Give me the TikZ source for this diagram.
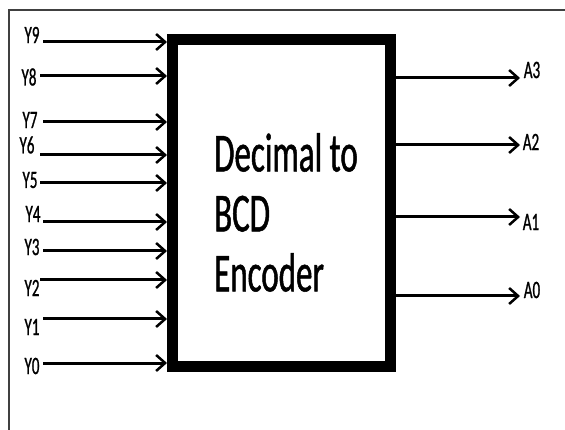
\documentclass[tikz,border=0pt]{standalone}
\usepackage{fontspec}
\setmainfont{Carlito}
\newfontfamily\condfont[FakeStretch=0.6,FakeBold=0.9]{Carlito}
\usetikzlibrary{arrows.meta}
\begin{document}
\begin{tikzpicture}[x=1pt, y=-1pt,
  every node/.style={font=\condfont\fontsize{25}{27}\selectfont, inner sep=0pt},
  encbox/.style={draw, line width=11pt, minimum width=218pt, minimum height=326pt},
  sig/.style={line width=3pt, -{Straight Barb[length=9pt,width=16pt,line width=2.5pt]}}]
  \useasboundingbox (0,0) rectangle (565,430);
  % outer frame, cut off at right and bottom
  \draw[line width=2pt, black!75] (9,432) -- (9,10) -- (567,10);
  \node[encbox] (enc) at (281.5,203) {};
  \node[anchor=north west, align=left, font=\condfont\fontsize{55}{60}\selectfont] (title) at (214,133) {Decimal to\\BCD\\Encoder};
  % inputs
  \foreach \n/\lx/\ly/\sx/\sy in {9/32/35/43/42, 8/29/77/40/76, 7/30/120/43/122, 6/27/145/40/155, 5/30/180/40/183,
                                  4/33/214/43/222, 3/32/247/43/251, 2/32/288/40/280, 1/32/327/43/319, 0/32/366/43/363}{
    \node (y\n) at (\lx,\ly) {Y\n};
    \coordinate (s\n) at (\sx,\sy);
    \draw[sig] (s\n) -- (s\n -| enc.west);
  }
  % outputs
  \foreach \n/\lx/\ly/\y in {3/532/70/78, 2/531/142/145, 1/531/222/217, 0/532/290/296}{
    \coordinate (t\n) at (520,\y);
    \node (a\n) at (\lx,\ly) {A\n};
    \draw[sig] (enc.east |- t\n) -- (t\n);
  }
\end{tikzpicture}
\end{document}
